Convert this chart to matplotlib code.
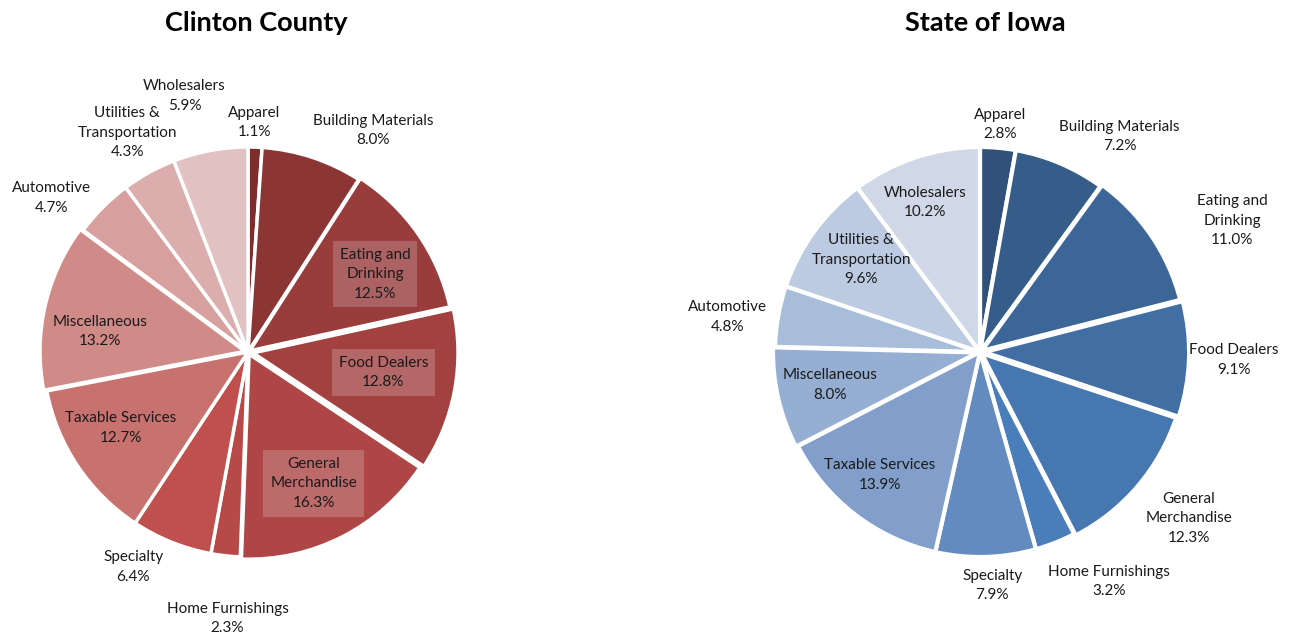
import matplotlib
matplotlib.use("Agg")
import matplotlib.pyplot as plt

plt.rcParams['font.family'] = ['Lato', 'DejaVu Sans']

categories = ["Apparel", "Building Materials", "Eating and\nDrinking", "Food Dealers",
              "General\nMerchandise", "Home Furnishings", "Specialty", "Taxable Services",
              "Miscellaneous", "Automotive", "Utilities &\nTransportation", "Wholesalers"]
clinton_values = [1.1, 8.0, 12.5, 12.8, 16.3, 2.3, 6.4, 12.7, 13.2, 4.7, 4.3, 5.9]
iowa_values = [2.8, 7.2, 11.0, 9.1, 12.3, 3.2, 7.9, 13.9, 8.0, 4.8, 9.6, 10.2]
titles = ["Clinton County", "State of Iowa"]

# styling / layout
clinton_colors = ["#7E2D2E", "#8B3535", "#983C3C", "#A34141", "#AD4645", "#B74A48",
                  "#C0504D", "#C7726F", "#D08B89", "#D7A09E", "#DBAEAD", "#E1C1C2"]
iowa_colors = ["#30527A", "#365C8A", "#3C6697", "#416FA4", "#4677B0", "#4A7EBB",
               "#638BC0", "#819FCA", "#95AED2", "#A8BDDA", "#BCCBE2", "#D0D8E8"]
clinton_explode = [0, 0, 0.01, 0.025, 0.012, 0, 0, 0.0, 0.015, 0, 0, 0]
iowa_explode = [0, 0, 0.01, 0.02, 0.01, 0, 0, 0, 0.01, 0, 0, 0]
# label positions in units of pie radius relative to centre
clinton_label_xy = [(0.03, 1.12), (0.61, 1.08), (0.62, 0.38), (0.66, -0.10), (0.32, -0.64),
                    (-0.10, -1.30), (-0.56, -1.05), (-0.62, -0.37), (-0.72, 0.10),
                    (-0.96, 0.75), (-0.59, 1.07), (-0.31, 1.25)]
clinton_boxed = [False, False, True, True, True, False, False, False, False, False, False, False]
iowa_label_xy = [(0.10, 1.11), (0.68, 1.05), (1.23, 0.64), (1.24, -0.04), (1.02, -0.81),
                 (0.63, -1.12), (0.06, -1.14), (-0.49, -0.60), (-0.73, -0.16),
                 (-1.23, 0.17), (-0.58, 0.45), (-0.27, 0.73)]

W, H = 1314, 636
R = 205.0
SPAN = 1.7
fig = plt.figure(figsize=(W / 100, H / 100), dpi=100)

def make_ax(cx, cy):
    size = 2 * SPAN * R
    ax = fig.add_axes([(cx - SPAN * R) / W, (H - cy - SPAN * R) / H, size / W, size / H])
    return ax

def draw(ax, values, colors, explode, label_xy, boxed, lw):
    ax.pie(values, colors=colors, startangle=90, counterclock=False,
           radius=1.0, explode=explode,
           wedgeprops=dict(edgecolor="white", linewidth=lw))
    ax.set_xlim(-SPAN, SPAN)
    ax.set_ylim(-SPAN, SPAN)
    ax.set_aspect("equal")
    ax.axis("off")
    for name, v, (x, y), b in zip(categories, values, label_xy, boxed):
        kw = {}
        if b:
            kw["bbox"] = dict(boxstyle="square,pad=0.45", facecolor="white", alpha=0.2,
                              edgecolor="none")
        ax.text(x, y, f"{name}\n{v:.1f}%", ha="center", va="center", fontsize=11,
                linespacing=1.5, color="#1a1a1a", **kw)

ax1 = make_ax(248, 352)
draw(ax1, clinton_values, clinton_colors, clinton_explode, clinton_label_xy, clinton_boxed, 2.5)
ax2 = make_ax(980, 352)
draw(ax2, iowa_values, iowa_colors, iowa_explode, iowa_label_xy, [False] * 12, 3.0)

fig.text(256 / W, 1 - 23 / H, titles[0], ha="center", va="center", fontsize=19.5, fontweight="bold")
fig.text(985 / W, 1 - 23 / H, titles[1], ha="center", va="center", fontsize=19.5, fontweight="bold")

fig.savefig("out.png", dpi=100, facecolor="white")
